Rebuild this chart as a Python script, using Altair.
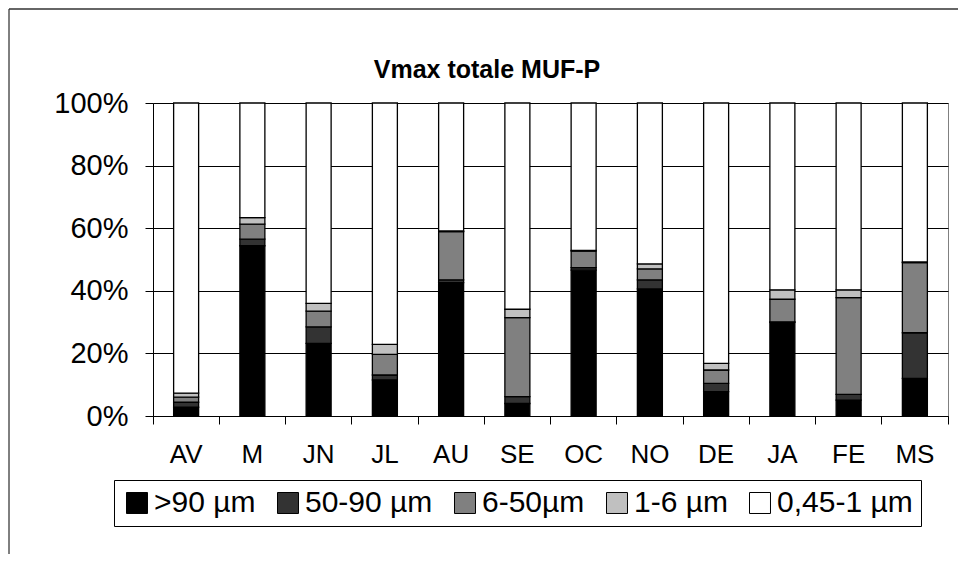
import altair as alt
import pandas as pd

months = ["AV", "M", "JN", "JL", "AU", "SE", "OC", "NO", "DE", "JA", "FE", "MS"]
classes = [">90 µm", "50-90 µm", "6-50µm", "1-6 µm", "0,45-1 µm"]
colors = ["#000000", "#333333", "#808080", "#C0C0C0", "#FFFFFF"]

gt90 = [2.8, 54.4, 23.2, 11.5, 42.6, 4.0, 46.6, 40.6, 7.8, 29.9, 5.1, 12.0]
c50_90 = [1.6, 2.1, 5.3, 1.6, 0.9, 2.2, 0.8, 2.9, 2.6, 0.2, 1.8, 14.6]
c6_50 = [1.6, 4.8, 5.0, 6.6, 15.4, 25.2, 5.3, 3.5, 4.3, 7.2, 30.9, 22.4]
c1_6 = [1.3, 2.1, 2.5, 3.2, 0.2, 2.7, 0.2, 1.6, 2.1, 3.0, 2.5, 0.2]
c045_1 = [92.7, 36.6, 64.0, 77.1, 40.9, 65.9, 47.1, 51.4, 83.2, 59.7, 59.7, 50.8]

title_text = "Vmax totale MUF-P"

series = [gt90, c50_90, c6_50, c1_6, c045_1]
rows = []
for k, (cls, vals) in enumerate(zip(classes, series)):
    for m, v in zip(months, vals):
        rows.append({"mois": m, "classe": cls, "ordre": k, "valeur": v})
df = pd.DataFrame(rows)

W, H = 795, 313
PAD_L, PAD_T, PAD_R, PAD_B = 145, 95, 10, 138
FONT = "Liberation Sans"

bars = alt.Chart(df).mark_bar(width=25, stroke="black", strokeWidth=1.3).encode(
    x=alt.X("mois:N", sort=months, title=None,
            scale=alt.Scale(paddingInner=0, paddingOuter=0),
            axis=alt.Axis(labelAngle=0, bandPosition=1, tickExtra=True,
                          tickSize=8, tickColor="black", domainColor="black",
                          labelFontSize=26, labelFont=FONT, labelColor="black",
                          labelPadding=17, grid=False)),
    y=alt.Y("valeur:Q", stack="normalize", title=None,
            scale=alt.Scale(domain=[0, 1]),
            axis=alt.Axis(values=[0, 0.2, 0.4, 0.6, 0.8, 1.0], format=".0%",
                          tickSize=8, tickColor="black", domainColor="black",
                          grid=True, gridColor="black", gridWidth=1, gridOpacity=1,
                          labelFontSize=29, labelFont=FONT, labelColor="black",
                          labelPadding=17)),
    color=alt.Color("classe:N", sort=classes,
                    scale=alt.Scale(domain=classes, range=colors),
                    legend=alt.Legend(title=None, orient="none", direction="horizontal",
                                      columns=5, legendX=-39, legendY=377,
                                      strokeColor="black", padding=8,
                                      symbolType="square", symbolSize=440,
                                      symbolStrokeColor="black", symbolStrokeWidth=1,
                                      symbolOpacity=1,
                                      labelFontSize=30, labelFont=FONT, labelColor="black",
                                      labelOffset=2, columnPadding=17)),
    order=alt.Order("ordre:Q", sort="ascending"),
)

one = alt.Data(values=[{"t": title_text}])
left_border = alt.Chart(one).mark_rule(color="black", strokeWidth=1).encode(
    x=alt.value(-PAD_L + 1), y=alt.value(-PAD_T + 1), y2=alt.value(H + PAD_B)
)
top_border = alt.Chart(one).mark_rule(color="#333333", strokeWidth=1.5).encode(
    x=alt.value(-PAD_L + 1), x2=alt.value(W + PAD_R), y=alt.value(-PAD_T + 1)
)
title = alt.Chart(one).mark_text(font=FONT, fontSize=25, fontWeight="bold",
                                 color="black", align="center", baseline="middle").encode(
    text="t:N", x=alt.value(334), y=alt.value(-33)
)

chart = alt.layer(bars, left_border, top_border, title).properties(
    width=W, height=H,
    padding={"left": PAD_L, "top": PAD_T, "right": PAD_R, "bottom": PAD_B},
    autosize=alt.AutoSizeParams(type="none"),
).configure_view(stroke="#808080", strokeWidth=1)

chart.save("out.html", embed_options={"renderer": "svg", "actions": False})
